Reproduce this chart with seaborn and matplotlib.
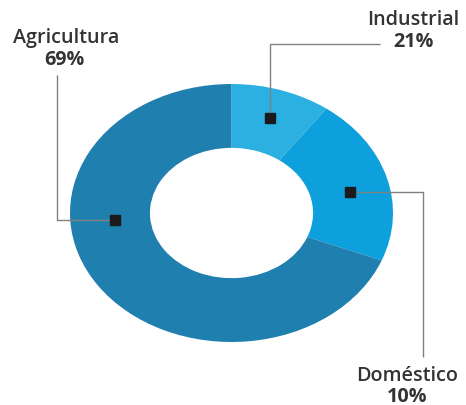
import matplotlib
matplotlib.use("Agg")
import matplotlib.pyplot as plt
import seaborn as sns
import numpy as np

# Data (wedge order clockwise from 12 o'clock, as drawn in the reference)
wedge_names = ["Industrial", "Doméstico", "Agricultura"]
wedge_values = [10, 21, 69]
label_pcts = ["21%", "10%", "69%"]
wedge_colors = ["#2cb0e2", "#0da0dd", "#1f7fae"]

sns.set_theme(style="white")
plt.rcParams["font.family"] = ["Open Sans", "DejaVu Sans"]

W, H, DPI = 466, 406, 100
fig = plt.figure(figsize=(W / DPI, H / DPI), dpi=DPI)
ax = fig.add_axes([0, 0, 1, 1])

# pixel-based coordinates; y scaled to make the donut elliptical
cx, cy, rx, ry = 231.5, 214.0, 161.5, 129.0
s = ry / rx

def Y(py):
    return py / s

ax.pie(wedge_values, colors=wedge_colors, startangle=-90, counterclock=True,
       radius=rx, center=(cx, Y(cy)), wedgeprops=dict(width=rx * 0.495, linewidth=0),
       frame=True)
ax.set_aspect("auto")
ax.set_xlim(0, W)
ax.set_ylim(H / s, 0)
ax.axis("off")

# marker positions derived from the wedge angles
marker_frac = [0.5, 0.55, 0.62]
marker_r = [0.772, 0.752, 0.724]
total = sum(wedge_values)
cum = np.concatenate([[0], np.cumsum(wedge_values)]) / total * 360.0
mpos = []
for i in range(len(wedge_values)):
    ang = np.deg2rad(cum[i] + marker_frac[i] * (cum[i + 1] - cum[i]))
    px = cx + marker_r[i] * rx * np.sin(ang)
    py = cy - marker_r[i] * ry * np.cos(ang)
    mpos.append((px, py))

line_kw = dict(color="#808080", lw=1.0, solid_capstyle="butt", zorder=3)
# Industrial leader
(x0, y0) = mpos[0]
ax.plot([x0, x0, 380], [Y(y0), Y(45), Y(45)], **line_kw)
# Doméstico leader
(x1, y1) = mpos[1]
ax.plot([x1, 423, 423], [Y(y1), Y(y1), Y(358)], **line_kw)
# Agricultura leader
(x2, y2) = mpos[2]
ax.plot([x2, 57, 57], [Y(y2), Y(y2), Y(76)], **line_kw)

for (px, py) in mpos:
    ax.plot(px, Y(py), marker="s", markersize=7.5, color="#1c1a1a", zorder=4)

txt = "#333333"
label_pos = {
    0: ((413, 20), (413, 42)),
    1: ((407, 376), (407, 397)),
    2: ((66, 38), (64, 60)),
}
for i, name in enumerate(wedge_names):
    (nx, ny), (qx, qy) = label_pos[i]
    ax.text(nx, Y(ny), name, ha="center", va="center", fontsize=14.2,
            color=txt, fontweight="semibold")
    ax.text(qx, Y(qy), label_pcts[i], ha="center", va="center", fontsize=14.2,
            color=txt, fontweight="bold")

fig.savefig("out.png", dpi=DPI, facecolor="white")
